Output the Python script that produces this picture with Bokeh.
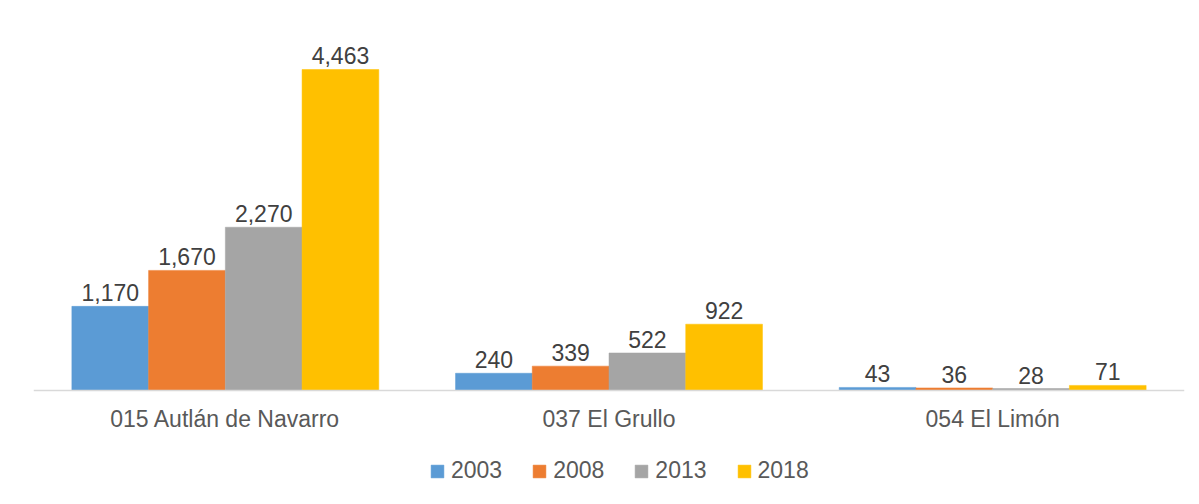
from bokeh.plotting import figure
from bokeh.models import ColumnDataSource, FactorRange, Legend, LegendItem, Range1d, Span
from bokeh.core.properties import value
from bokeh.transform import dodge
from bokeh.embed import file_html
from bokeh.resources import INLINE

municipios = ["015 Autlán de Navarro", "037 El Grullo", "054 El Limón"]
years = ["2003", "2008", "2013", "2018"]
v2003 = [1170, 240, 43]
v2008 = [1670, 339, 36]
v2013 = [2270, 522, 28]
v2018 = [4463, 922, 71]
colors = ["#5B9BD5", "#ED7D31", "#A5A5A5", "#FFC000"]
offsets = [-0.3, -0.1, 0.1, 0.3]

series = [v2003, v2008, v2013, v2018]
data = {"cat": municipios, "zero": [0] * len(municipios)}
for y, vals in zip(years, series):
    data["v" + y] = vals
    data["t" + y] = [f"{v:,}" for v in vals]
src = ColumnDataSource(data)

p = figure(x_range=FactorRange(*municipios, range_padding=0), y_range=Range1d(-1529, 5033),
           width=1198, height=500, output_backend="svg", toolbar_location=None,
           x_axis_location=None, y_axis_location=None,
           min_border_left=33, min_border_right=14, min_border_top=28, min_border_bottom=0)
p.outline_line_color = None
p.grid.visible = False
p.background_fill_color = "white"
p.border_fill_color = "white"

FONT = "Liberation Sans"
items = []
for y, col, off in zip(years, colors, offsets):
    r = p.vbar(x=dodge("cat", off, range=p.x_range), top="v" + y, bottom=0, width=0.2, source=src,
               fill_color=col, line_color=col, line_width=0.5)
    p.text(x=dodge("cat", off, range=p.x_range), y="v" + y, text="t" + y, source=src,
           text_align="center", text_baseline="bottom", y_offset=-5,
           text_font_size="23px", text_color="#404040", text_font=value(FONT))
    items.append(LegendItem(label=y, renderers=[r]))

# baseline (category axis line)
p.add_layout(Span(location=0, dimension="width", line_color="#d9d9d9", line_width=1.5))

# category labels
p.text(x="cat", y="zero", text="cat", source=src, text_align="center", text_baseline="middle",
       y_offset=28, text_font_size="23px", text_color="#595959", text_font=value(FONT))

legend = Legend(items=items, orientation="horizontal", location=(396, 16),
                label_text_font_size="23px", label_text_color="#595959", label_text_font=FONT,
                glyph_width=16, glyph_height=16, label_standoff=6, spacing=29,
                border_line_color=None, background_fill_alpha=0, margin=0, padding=4,
                label_height=23)
p.add_layout(legend, "center")

open("out.html", "w").write(file_html(p, INLINE))
